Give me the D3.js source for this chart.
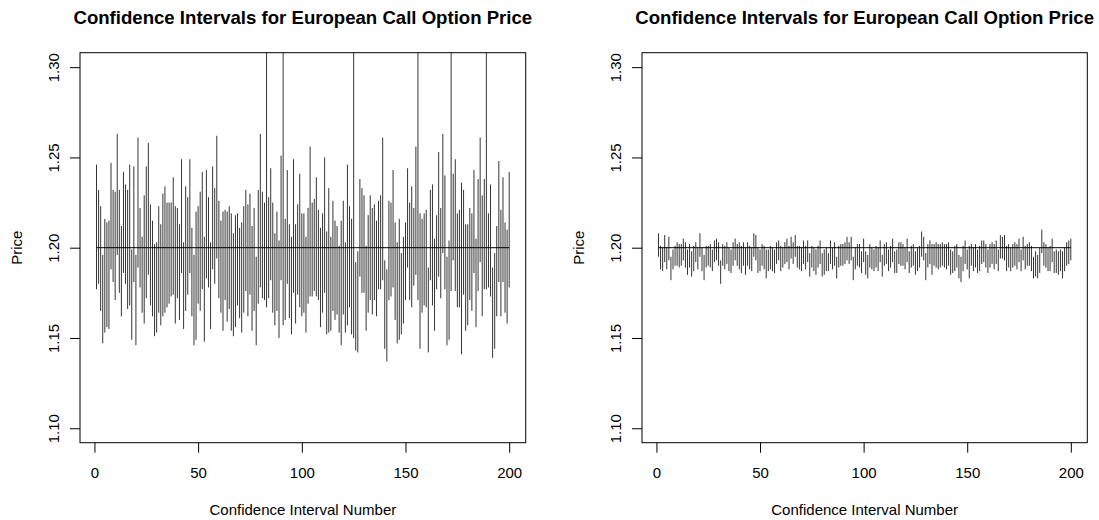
<!DOCTYPE html>
<html><head><meta charset="utf-8">
<script src="https://cdn.jsdelivr.net/npm/d3@7"></script>
<style>body{margin:0;background:#fff} text{font-family:"Liberation Sans",Arial,Helvetica,sans-serif}</style>
</head><body><svg id="c" width="1099" height="520"></svg>
<script>
const intervalIndex = d3.range(1, 201);
const leftUpper = [
1.246,1.232,1.223,1.196,1.216,1.214,1.215,1.247,1.232,1.231,
1.263,1.232,1.212,1.242,1.235,1.232,1.246,1.199,1.245,1.196,
1.261,1.222,1.206,1.229,1.245,1.258,1.224,1.215,1.202,1.203,
1.223,1.213,1.230,1.234,1.225,1.225,1.225,1.239,1.223,1.222,
1.213,1.249,1.203,1.234,1.228,1.249,1.211,1.196,1.220,1.223,
1.231,1.242,1.206,1.243,1.228,1.203,1.245,1.233,1.262,1.226,
1.215,1.220,1.221,1.220,1.223,1.219,1.208,1.218,1.219,1.211,
1.214,1.223,1.232,1.224,1.230,1.212,1.222,1.195,1.232,1.263,
1.231,1.225,1.350,1.228,1.244,1.225,1.208,1.220,1.204,1.251,
1.350,1.216,1.243,1.213,1.206,1.249,1.213,1.224,1.241,1.219,
1.219,1.206,1.222,1.256,1.225,1.227,1.239,1.221,1.211,1.219,
1.250,1.209,1.233,1.206,1.226,1.215,1.212,1.201,1.215,1.226,
1.203,1.246,1.223,1.216,1.350,1.192,1.198,1.238,1.233,1.229,
1.201,1.218,1.229,1.222,1.224,1.215,1.226,1.229,1.261,1.193,
1.188,1.226,1.225,1.243,1.214,1.203,1.216,1.197,1.206,1.214,
1.244,1.225,1.234,1.222,1.256,1.350,1.219,1.216,1.219,1.221,
1.189,1.232,1.235,1.205,1.218,1.253,1.222,1.263,1.240,1.195,
1.204,1.350,1.241,1.249,1.219,1.221,1.236,1.232,1.213,1.213,
1.222,1.219,1.243,1.205,1.238,1.261,1.229,1.238,1.350,1.219,
1.235,1.189,1.197,1.212,1.248,1.221,1.239,1.214,1.210,1.242];
const leftLower = [
1.177,1.180,1.165,1.147,1.153,1.156,1.155,1.188,1.181,1.171,
1.196,1.175,1.162,1.186,1.180,1.166,1.168,1.149,1.181,1.146,
1.189,1.178,1.164,1.158,1.172,1.185,1.168,1.162,1.151,1.153,
1.164,1.157,1.162,1.164,1.167,1.169,1.173,1.174,1.158,1.172,
1.160,1.186,1.155,1.165,1.174,1.186,1.162,1.146,1.149,1.169,
1.165,1.177,1.148,1.183,1.178,1.155,1.188,1.180,1.194,1.172,
1.164,1.154,1.171,1.159,1.166,1.154,1.151,1.156,1.168,1.161,
1.153,1.164,1.176,1.162,1.174,1.154,1.165,1.146,1.169,1.178,
1.172,1.171,1.167,1.172,1.182,1.164,1.157,1.165,1.150,1.182,
1.157,1.160,1.180,1.161,1.152,1.175,1.158,1.174,1.167,1.162,
1.164,1.153,1.169,1.173,1.173,1.176,1.173,1.171,1.156,1.164,
1.175,1.152,1.153,1.154,1.165,1.160,1.163,1.153,1.146,1.163,
1.153,1.157,1.167,1.152,1.150,1.143,1.142,1.184,1.175,1.175,
1.154,1.164,1.171,1.163,1.171,1.162,1.177,1.177,1.182,1.144,
1.137,1.171,1.173,1.178,1.160,1.147,1.149,1.152,1.158,1.171,
1.189,1.171,1.167,1.179,1.185,1.171,1.144,1.164,1.168,1.167,
1.142,1.182,1.168,1.154,1.177,1.184,1.172,1.197,1.177,1.146,
1.149,1.176,1.193,1.176,1.167,1.167,1.141,1.174,1.154,1.157,
1.171,1.165,1.186,1.156,1.176,1.192,1.162,1.177,1.177,1.178,
1.173,1.139,1.144,1.162,1.181,1.162,1.181,1.164,1.158,1.178];
const rightUpper = [
1.208,1.201,1.200,1.207,1.200,1.206,1.195,1.199,1.201,1.203,
1.202,1.202,1.205,1.203,1.199,1.202,1.198,1.201,1.203,1.200,
1.208,1.200,1.196,1.201,1.201,1.202,1.199,1.204,1.205,1.203,
1.193,1.202,1.201,1.203,1.200,1.199,1.203,1.205,1.202,1.203,
1.201,1.203,1.200,1.203,1.201,1.200,1.208,1.207,1.200,1.199,
1.202,1.201,1.199,1.199,1.201,1.200,1.199,1.203,1.204,1.201,
1.200,1.203,1.205,1.201,1.206,1.203,1.207,1.201,1.201,1.200,
1.204,1.201,1.204,1.197,1.201,1.200,1.199,1.201,1.204,1.197,
1.199,1.200,1.197,1.204,1.200,1.203,1.195,1.201,1.202,1.202,
1.203,1.206,1.203,1.206,1.195,1.200,1.202,1.202,1.198,1.205,
1.198,1.196,1.202,1.200,1.199,1.201,1.200,1.204,1.196,1.202,
1.203,1.199,1.201,1.205,1.198,1.199,1.203,1.203,1.202,1.200,
1.205,1.198,1.201,1.202,1.198,1.200,1.201,1.209,1.206,1.197,
1.202,1.204,1.202,1.202,1.203,1.202,1.202,1.203,1.202,1.202,
1.203,1.199,1.198,1.201,1.202,1.196,1.195,1.201,1.204,1.199,
1.201,1.202,1.200,1.202,1.199,1.201,1.204,1.204,1.202,1.199,
1.202,1.203,1.202,1.204,1.199,1.207,1.206,1.207,1.201,1.202,
1.200,1.202,1.203,1.202,1.205,1.199,1.206,1.201,1.202,1.203,
1.201,1.195,1.198,1.196,1.200,1.210,1.203,1.202,1.200,1.201,
1.205,1.198,1.199,1.198,1.199,1.198,1.200,1.203,1.204,1.205];
const rightLower = [
1.195,1.188,1.187,1.192,1.188,1.193,1.182,1.188,1.190,1.190,
1.189,1.190,1.193,1.189,1.185,1.189,1.184,1.187,1.192,1.188,
1.195,1.187,1.182,1.189,1.190,1.189,1.187,1.192,1.193,1.190,
1.180,1.190,1.188,1.191,1.187,1.186,1.190,1.193,1.190,1.188,
1.186,1.190,1.185,1.190,1.188,1.187,1.195,1.193,1.186,1.187,
1.190,1.188,1.183,1.187,1.188,1.187,1.186,1.191,1.193,1.187,
1.189,1.191,1.192,1.188,1.194,1.191,1.195,1.189,1.188,1.187,
1.191,1.188,1.192,1.184,1.189,1.187,1.185,1.189,1.191,1.184,
1.185,1.187,1.187,1.191,1.188,1.190,1.183,1.189,1.190,1.190,
1.191,1.193,1.191,1.193,1.182,1.188,1.190,1.189,1.186,1.192,
1.185,1.183,1.189,1.188,1.187,1.189,1.187,1.192,1.184,1.190,
1.191,1.187,1.189,1.192,1.186,1.186,1.191,1.190,1.190,1.188,
1.192,1.186,1.189,1.190,1.185,1.187,1.189,1.195,1.193,1.182,
1.189,1.191,1.185,1.190,1.189,1.188,1.189,1.190,1.189,1.188,
1.190,1.185,1.186,1.187,1.189,1.183,1.181,1.187,1.191,1.188,
1.183,1.190,1.187,1.189,1.186,1.187,1.191,1.192,1.189,1.186,
1.189,1.191,1.188,1.191,1.187,1.194,1.194,1.193,1.187,1.189,
1.187,1.189,1.190,1.188,1.192,1.187,1.193,1.188,1.190,1.190,
1.187,1.183,1.184,1.183,1.186,1.197,1.190,1.189,1.187,1.187,
1.192,1.186,1.186,1.185,1.187,1.183,1.187,1.190,1.191,1.193];
const trueValue = 1.2;
const xTicks = [0, 50, 100, 150, 200];
const yTicks = [1.10, 1.15, 1.20, 1.25, 1.30];
const titleText = "Confidence Intervals for European Call Option Price";
const xLabel = "Confidence Interval Number";
const yLabel = "Price";

const svg = d3.select("#c");
const yTop = 52.7, yBot = 442.7;
const y = d3.scaleLinear().domain([1.092, 1.308]).range([yBot, yTop]);
const panels = [
  {x0: 80, x1: 525.7, lower: leftLower, upper: leftUpper},
  {x0: 642, x1: 1087.3, lower: rightLower, upper: rightUpper}
];
const FS = 15;

panels.forEach((p, k) => {
  const x = d3.scaleLinear().domain([-6.96, 207.96]).range([p.x0, p.x1]);
  const g = svg.append("g");
  const clipId = "clip" + k;
  svg.append("clipPath").attr("id", clipId).append("rect")
    .attr("x", p.x0).attr("y", yTop).attr("width", p.x1 - p.x0).attr("height", yBot - yTop);
  const data = intervalIndex.map((n, i) => ({n, lo: p.lower[i], hi: p.upper[i]}));
  g.append("g").attr("clip-path", `url(#${clipId})`)
    .selectAll("line").data(data).join("line")
    .attr("x1", d => x(d.n)).attr("x2", d => x(d.n))
    .attr("y1", d => y(d.lo)).attr("y2", d => y(d.hi))
    .attr("stroke", "#000").attr("stroke-width", 0.8);
  g.append("line")
    .attr("x1", x(1)).attr("x2", x(200))
    .attr("y1", y(trueValue)).attr("y2", y(trueValue))
    .attr("stroke", "#000").attr("stroke-width", 1);

  // box
  g.append("rect").attr("x", p.x0).attr("y", yTop)
    .attr("width", p.x1 - p.x0).attr("height", yBot - yTop)
    .attr("fill", "none").attr("stroke", "#000").attr("stroke-width", 1);

  // x axis
  const xa = g.append("g").attr("transform", `translate(0,${yBot})`)
    .call(d3.axisBottom(x).tickValues(xTicks).tickFormat(d3.format("d")).tickSize(10).tickPadding(15).tickSizeOuter(0));
  xa.select(".domain").remove();
  xa.selectAll("line").attr("stroke", "#000");
  xa.selectAll("text").attr("font-size", FS).attr("font-family", "Liberation Sans, Arial, sans-serif").attr("fill", "#000");

  // y axis
  const ya = g.append("g").attr("transform", `translate(${p.x0},0)`)
    .call(d3.axisLeft(y).tickValues(yTicks).tickFormat(d3.format(".2f")).tickSize(10).tickSizeOuter(0));
  ya.select(".domain").remove();
  ya.selectAll("line").attr("stroke", "#000");
  ya.selectAll("text")
    .attr("font-size", FS).attr("font-family", "Liberation Sans, Arial, sans-serif").attr("fill", "#000")
    .attr("transform", "rotate(-90)")
    .attr("x", 0).attr("y", -21).attr("dy", null)
    .attr("text-anchor", "middle");

  const cx = (p.x0 + p.x1) / 2;
  g.append("text").attr("x", cx).attr("y", 24).attr("text-anchor", "middle")
    .attr("font-size", 18.6).attr("font-weight", "bold").attr("fill", "#000").text(titleText);
  g.append("text").attr("x", cx).attr("y", 515).attr("text-anchor", "middle")
    .attr("font-size", FS).attr("fill", "#000").text(xLabel);
  g.append("text").attr("transform", `translate(${p.x0 - 58},${(yTop + yBot) / 2}) rotate(-90)`)
    .attr("text-anchor", "middle").attr("font-size", FS).attr("fill", "#000").text(yLabel);
});
</script></body></html>
